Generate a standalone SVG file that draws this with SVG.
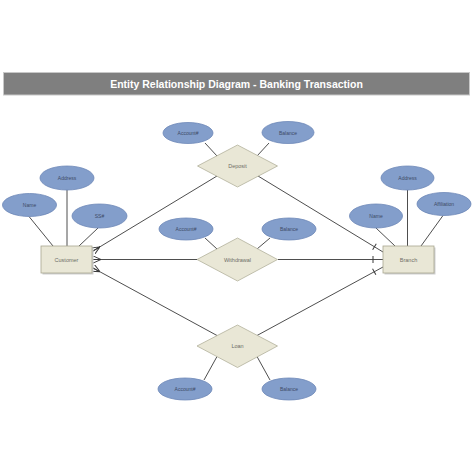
<svg xmlns="http://www.w3.org/2000/svg" width="474" height="474" viewBox="0 0 474 474">
<style>
.attr{fill:#839ecb;stroke:#6d88b8;stroke-width:0.8}
.ent{fill:#e9e7d6;stroke:#a9a791;stroke-width:0.8}
.shadow{fill:#cfcfcf}
.rel{fill:#e9e7d6;stroke:#b3b19c;stroke-width:0.8}
.lbl{font-family:"Liberation Sans",Arial,sans-serif;font-size:5px;fill:#3d4a66;text-anchor:middle;dominant-baseline:central}
.elbl{font-family:"Liberation Sans",Arial,sans-serif;font-size:5.5px;fill:#6e6e66;text-anchor:middle;dominant-baseline:central}
.link{stroke:#3a3a3a;stroke-width:0.9;fill:none}
.rline{stroke:#3a3a3a;stroke-width:0.9;fill:none}
</style>
<defs>
<marker id="crow" viewBox="0 0 10 10" refX="10" refY="5" markerWidth="8" markerHeight="8" markerUnits="userSpaceOnUse" orient="auto">
<path d="M0,5 L10,0.5 M0,5 L10,5 M0,5 L10,9.5" stroke="#3a3a3a" stroke-width="1.2" fill="none"/>
</marker>
<marker id="one" viewBox="0 0 12 8" refX="12" refY="4" markerWidth="12" markerHeight="8" markerUnits="userSpaceOnUse" orient="auto">
<path d="M2,0.5 L2,7.5" stroke="#3a3a3a" stroke-width="1" fill="none"/>
</marker>
</defs>
<rect x="0" y="0" width="474" height="474" fill="#ffffff"/>
<g id="title">
<rect x="3.5" y="72.5" width="466" height="22.5" fill="#7f7f7f" stroke="#c8c8c8" stroke-width="1"/>
<text x="236.5" y="87.5" font-family="'Liberation Sans',Arial,sans-serif" font-size="10.5" font-weight="bold" fill="#ffffff" text-anchor="middle">Entity Relationship Diagram - Banking Transaction</text>
</g>
<g id="connectors">
<line class="link" x1="29" y1="216.5" x2="53" y2="246"/>
<line class="link" x1="67" y1="190" x2="67" y2="246"/>
<line class="link" x1="98" y1="228" x2="79" y2="246"/>
<line class="link" x1="376" y1="228" x2="395" y2="246"/>
<line class="link" x1="407.5" y1="190" x2="407.5" y2="246"/>
<line class="link" x1="443" y1="215.5" x2="421" y2="246"/>
<line class="link" x1="205" y1="143" x2="217" y2="156"/>
<line class="link" x1="269" y1="143" x2="257" y2="156"/>
<line class="link" x1="205" y1="238" x2="217" y2="249"/>
<line class="link" x1="270" y1="238" x2="257" y2="249"/>
<line class="link" x1="217" y1="356.5" x2="204" y2="380"/>
<line class="link" x1="257" y1="356.5" x2="270" y2="380"/>
<line class="rline" x1="217" y1="176" x2="93" y2="251" marker-end="url(#crow)"/>
<line class="rline" x1="197" y1="259.5" x2="93" y2="259.5" marker-end="url(#crow)"/>
<line class="rline" x1="217" y1="335.5" x2="93" y2="268" marker-end="url(#crow)"/>
<line class="rline" x1="258" y1="176" x2="383" y2="252" marker-end="url(#one)"/>
<line class="rline" x1="278" y1="259.5" x2="383" y2="259.5" marker-end="url(#one)"/>
<line class="rline" x1="257" y1="335.5" x2="383" y2="267" marker-end="url(#one)"/>
</g>
<g id="customer">
<rect class="shadow" x="42.5" y="247.5" width="51" height="27"/>
<rect class="ent" x="41" y="246" width="51" height="27"/>
<text class="elbl" x="66.5" y="259.5">Customer</text>
</g>
<g id="customer-name"><ellipse class="attr" cx="29.5" cy="205" rx="27" ry="11.5"/><text class="lbl" x="29.5" y="205">Name</text></g>
<g id="customer-address"><ellipse class="attr" cx="67" cy="178" rx="27" ry="12"/><text class="lbl" x="67" y="178">Address</text></g>
<g id="customer-ssn"><ellipse class="attr" cx="99.5" cy="216" rx="27.5" ry="12"/><text class="lbl" x="99.5" y="216">SS#</text></g>
<g id="branch">
<rect class="shadow" x="384.5" y="247.5" width="51" height="27"/>
<rect class="ent" x="383" y="246" width="51" height="27"/>
<text class="elbl" x="408.5" y="259.5">Branch</text>
</g>
<g id="branch-address"><ellipse class="attr" cx="407.5" cy="178" rx="26.5" ry="12"/><text class="lbl" x="407.5" y="178">Address</text></g>
<g id="branch-affiliation"><ellipse class="attr" cx="444" cy="204" rx="27" ry="11.5"/><text class="lbl" x="444" y="204">Affiliation</text></g>
<g id="branch-name"><ellipse class="attr" cx="376" cy="216" rx="26.5" ry="12"/><text class="lbl" x="376" y="216">Name</text></g>
<g id="deposit">
<polygon class="rel" points="237.5,145 277.5,166 237.5,187 197.5,166"/>
<text class="elbl" x="237.5" y="166">Deposit</text>
</g>
<g id="deposit-account"><ellipse class="attr" cx="188" cy="133" rx="25" ry="10.5"/><text class="lbl" x="188" y="133">Account#</text></g>
<g id="deposit-balance"><ellipse class="attr" cx="288" cy="132.5" rx="26" ry="11"/><text class="lbl" x="288" y="132.5">Balance</text></g>
<g id="withdrawal">
<polygon class="rel" points="237.5,238 277.5,259.5 237.5,281 197,259.5"/>
<text class="elbl" x="237.5" y="259.5">Withdrawal</text>
</g>
<g id="withdrawal-account"><ellipse class="attr" cx="186" cy="229" rx="27" ry="11"/><text class="lbl" x="186" y="229">Account#</text></g>
<g id="withdrawal-balance"><ellipse class="attr" cx="289" cy="229" rx="27" ry="11"/><text class="lbl" x="289" y="229">Balance</text></g>
<g id="loan">
<polygon class="rel" points="237.5,325 277.5,346 237.5,367.5 197,346"/>
<text class="elbl" x="237.5" y="346">Loan</text>
</g>
<g id="loan-account"><ellipse class="attr" cx="185" cy="389" rx="27" ry="11"/><text class="lbl" x="185" y="389">Account#</text></g>
<g id="loan-balance"><ellipse class="attr" cx="289" cy="389" rx="27" ry="11"/><text class="lbl" x="289" y="389">Balance</text></g>
</svg>
